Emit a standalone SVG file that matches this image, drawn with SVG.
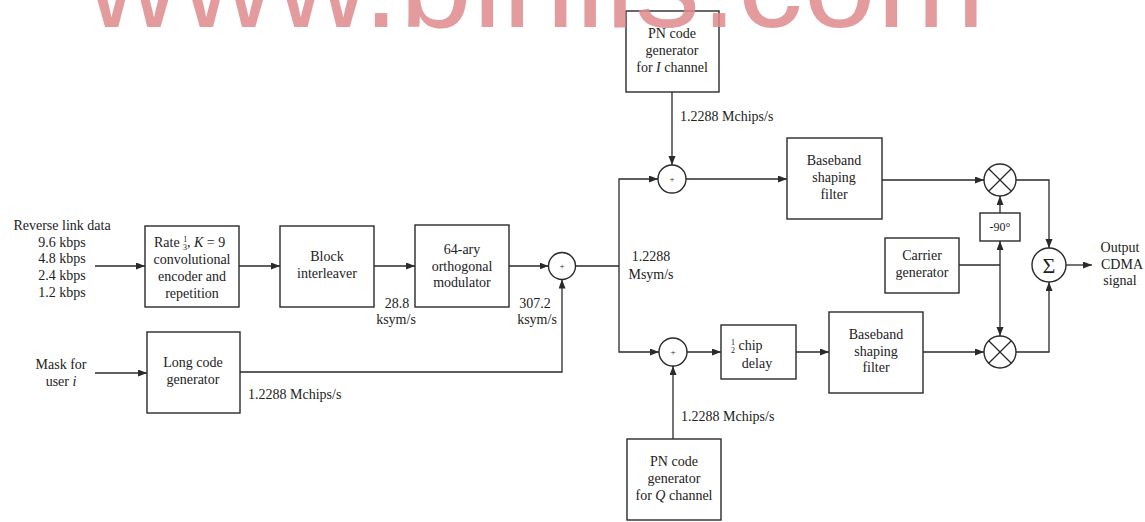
<svg xmlns="http://www.w3.org/2000/svg" width="1145" height="522" viewBox="0 0 1145 522">
<style>
.bx{fill:#fff;stroke:#2a2a2a;stroke-width:1.4}
.ln{fill:none;stroke:#2a2a2a;stroke-width:1.3}
.ar{fill:none;stroke:#2a2a2a;stroke-width:1.3;marker-end:url(#ah)}
.t{font-family:"Liberation Serif","Times New Roman",serif;font-size:14px;fill:#222;text-anchor:middle}
.ts{font-family:"Liberation Serif","Times New Roman",serif;font-size:14px;fill:#222;text-anchor:start}
.pl{font-size:9px}
.wm{font-family:"Liberation Sans",Arial,sans-serif;font-size:130px;fill:#e08a8e;opacity:0.85}
</style>
<defs>
<marker id="ah" markerUnits="userSpaceOnUse" markerWidth="10" markerHeight="8" refX="9" refY="3.5" orient="auto">
<path d="M0,0 L9,3.5 L0,7 z" fill="#2a2a2a"/>
</marker>
</defs>
<rect width="1145" height="522" fill="#fff"/>

<g id="connectors">
<path class="ar" d="M95,266 H145"/>
<path class="ar" d="M239,266 H280"/>
<path class="ar" d="M374,266 H415"/>
<path class="ar" d="M509,266 H548.5"/>
<path class="ar" d="M95,373 H147"/>
<path class="ar" d="M240,372 H562 V279.5"/>
<path class="ln" d="M575.5,266 H619"/>
<path class="ar" d="M619,266 V179 H658"/>
<path class="ar" d="M619,266 V352 H659"/>
<path class="ar" d="M672,92 V165"/>
<path class="ar" d="M686,179 H787"/>
<path class="ar" d="M687,352 H721"/>
<path class="ar" d="M796,352 H829"/>
<path class="ar" d="M673,439 V366"/>
<path class="ar" d="M882,180 H984"/>
<path class="ar" d="M923,352 H984"/>
<path class="ln" d="M959,265 H1000"/>
<path class="ar" d="M1000,265 V241"/>
<path class="ar" d="M1000,213 V196"/>
<path class="ar" d="M1000,265 V336"/>
<path class="ar" d="M1016,180 H1049 V248"/>
<path class="ar" d="M1016,352 H1049 V282"/>
<path class="ar" d="M1066,265 H1092"/>
</g>

<g id="input-data">
<text class="t" x="62" y="230">Reverse link data</text>
<text class="t" x="62" y="247">9.6 kbps</text>
<text class="t" x="62" y="263">4.8 kbps</text>
<text class="t" x="62" y="280">2.4 kbps</text>
<text class="t" x="62" y="297">1.2 kbps</text>
</g>

<g id="encoder">
<rect class="bx" x="145" y="226" width="94" height="81"/>
<text class="ts" x="154" y="247">Rate <tspan font-size="8" dy="-5">1</tspan><tspan font-size="8" x="183" dy="8">3</tspan><tspan dy="-3">, </tspan><tspan font-style="italic">K</tspan> = 9</text>
<text class="t" x="192" y="264">convolutional</text>
<text class="t" x="192" y="281">encoder and</text>
<text class="t" x="192" y="298">repetition</text>
</g>

<g id="interleaver">
<rect class="bx" x="280" y="226" width="94" height="81"/>
<text class="t" x="327" y="261">Block</text>
<text class="t" x="327" y="278">interleaver</text>
</g>
<text class="t" x="397" y="308">28.8</text>
<text class="t" x="396" y="324">ksym/s</text>

<g id="modulator">
<rect class="bx" x="415" y="225" width="94" height="82"/>
<text class="t" x="462" y="254">64-ary</text>
<text class="t" x="462" y="271">orthogonal</text>
<text class="t" x="462" y="287">modulator</text>
</g>
<text class="t" x="535" y="308">307.2</text>
<text class="t" x="537" y="324">ksym/s</text>

<g id="adder-main">
<circle class="bx" cx="562" cy="266" r="13.5"/>
<text class="t pl" x="562" y="269">+</text>
</g>

<g id="mask">
<text class="t" x="61" y="369">Mask for</text>
<text class="t" x="61" y="386">user <tspan font-style="italic">i</tspan></text>
</g>

<g id="long-code">
<rect class="bx" x="147" y="332" width="93" height="81"/>
<text class="t" x="193" y="367">Long code</text>
<text class="t" x="193" y="384">generator</text>
</g>
<text class="ts" x="248" y="399">1.2288 Mchips/s</text>

<text class="t" x="651" y="261">1.2288</text>
<text class="t" x="651" y="279">Msym/s</text>

<g id="pn-i">
<rect class="bx" x="626" y="11" width="93" height="81"/>
<text class="t" x="672" y="38">PN code</text>
<text class="t" x="672" y="55">generator</text>
<text class="t" x="672" y="72">for <tspan font-style="italic">I</tspan> channel</text>
</g>
<text class="ts" x="680" y="121">1.2288 Mchips/s</text>

<g id="adder-i">
<circle class="bx" cx="672" cy="179" r="14"/>
<text class="t pl" x="672" y="182">+</text>
</g>

<g id="filter-i">
<rect class="bx" x="787" y="138" width="95" height="81"/>
<text class="t" x="834" y="165">Baseband</text>
<text class="t" x="834" y="182">shaping</text>
<text class="t" x="834" y="199">filter</text>
</g>

<g id="adder-q">
<circle class="bx" cx="673" cy="352" r="14"/>
<text class="t pl" x="673" y="355">+</text>
</g>

<g id="chip-delay">
<rect class="bx" x="721" y="325" width="75" height="54"/>
<text class="ts" x="731" y="350"><tspan font-size="8" dy="-5">1</tspan><tspan font-size="8" x="731" dy="8">2</tspan><tspan dy="-3"> chip</tspan></text>
<text class="t" x="757" y="368">delay</text>
</g>

<g id="filter-q">
<rect class="bx" x="829" y="312" width="94" height="81"/>
<text class="t" x="876" y="339">Baseband</text>
<text class="t" x="876" y="356">shaping</text>
<text class="t" x="876" y="372">filter</text>
</g>

<g id="pn-q">
<rect class="bx" x="627" y="439" width="94" height="81"/>
<text class="t" x="674" y="466">PN code</text>
<text class="t" x="674" y="483">generator</text>
<text class="t" x="674" y="500">for <tspan font-style="italic">Q</tspan> channel</text>
</g>
<text class="ts" x="681" y="421">1.2288 Mchips/s</text>

<g id="mixer-i">
<circle class="bx" cx="1000" cy="180" r="16"/>
<path class="ln" d="M988.7,168.7 L1011.3,191.3 M1011.3,168.7 L988.7,191.3"/>
</g>

<g id="mixer-q">
<circle class="bx" cx="1000" cy="352" r="16"/>
<path class="ln" d="M988.7,340.7 L1011.3,363.3 M1011.3,340.7 L988.7,363.3"/>
</g>

<g id="phase-shift">
<rect class="bx" x="980" y="213" width="40" height="28"/>
<text class="t" x="1000" y="231" style="font-size:12px">-90°</text>
</g>

<g id="carrier">
<rect class="bx" x="885" y="238" width="74" height="55"/>
<text class="t" x="922" y="260">Carrier</text>
<text class="t" x="922" y="277">generator</text>
</g>

<g id="sum">
<circle class="bx" cx="1049" cy="265" r="17"/>
<text class="t" x="1049" y="273" style="font-size:22px">Σ</text>
</g>

<g id="output">
<text class="t" x="1120" y="252">Output</text>
<text class="t" x="1122" y="269">CDMA</text>
<text class="t" x="1120" y="285">signal</text>
</g>

<text class="wm" x="86" y="27" textLength="899" lengthAdjust="spacing">www.binils.com</text>
</svg>
